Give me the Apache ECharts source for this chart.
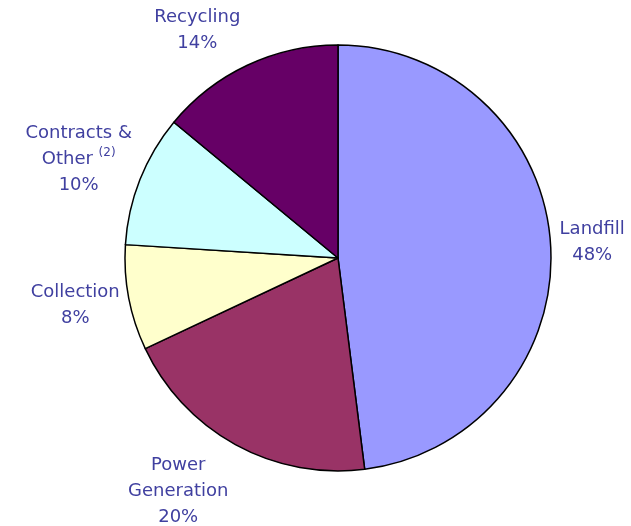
<!DOCTYPE html>
<html>
<head>
<meta charset="utf-8">
<style>
  html, body { margin: 0; padding: 0; background: #ffffff; }
  #chart { width: 631px; height: 526px; }
</style>
<script src="https://cdn.jsdelivr.net/npm/echarts@6/dist/echarts.min.js"></script>
</head>
<body>
<div id="chart"></div>
<script>
// Revenue mix by line of business (percent of total)
const categories = ['Landfill', 'Power Generation', 'Collection', 'Contracts & Other', 'Recycling'];
const shares = [48, 20, 8, 10, 14];
const sliceColors = ['#9999ff', '#993366', '#ffffcc', '#ccffff', '#660066'];

// Label text lines per slice (rich-text markup, centred tokens)
const labelLines = [
  ['{t|Landfill}'],
  ['{t|Power}', '{t|Generation}'],
  ['{t|Collection}'],
  ['{t|Contracts &}', '{t|Other }{s|(2)}'],
  ['{t|Recycling}']
];

// Small per-label nudges away from the slice edge
const labelNudge = [
  [9, -2],
  [-7, 47],
  [-9, 7],
  [-8, -20],
  [-7, -35]
];

const chart = echarts.init(document.getElementById('chart'), null, { renderer: 'canvas' });

const data = categories.map((name, i) => ({
  name: name,
  value: shares[i],
  itemStyle: { color: sliceColors[i] }
}));

chart.setOption({
  animation: false,
  backgroundColor: '#ffffff',
  series: [{
    type: 'pie',
    center: [338, 258],
    radius: 213,
    startAngle: 90,
    clockwise: true,
    avoidLabelOverlap: false,
    data: data,
    itemStyle: { borderColor: '#000000', borderWidth: 1.5 },
    emphasis: { disabled: true },
    label: {
      show: true,
      position: 'outside',
      distanceToLabelLine: 0,
      overflow: 'none',
      formatter: (p) => labelLines[p.dataIndex].concat(['{t|' + p.value + '%}']).join('\n'),
      rich: {
        t: {
          fontFamily: 'DejaVu Sans',
          fontSize: 18,
          color: '#4040a0',
          lineHeight: 26,
          align: 'center'
        },
        s: {
          fontFamily: 'DejaVu Sans',
          fontSize: 12,
          color: '#4040a0',
          lineHeight: 26,
          verticalAlign: 'top',
          padding: [0, 0, 8, 0],
          align: 'center'
        }
      }
    },
    labelLine: { show: false, length: 0, length2: 0 },
    labelLayout: (params) => ({
      dx: labelNudge[params.dataIndex][0],
      dy: labelNudge[params.dataIndex][1]
    })
  }]
});
</script>
</body>
</html>
